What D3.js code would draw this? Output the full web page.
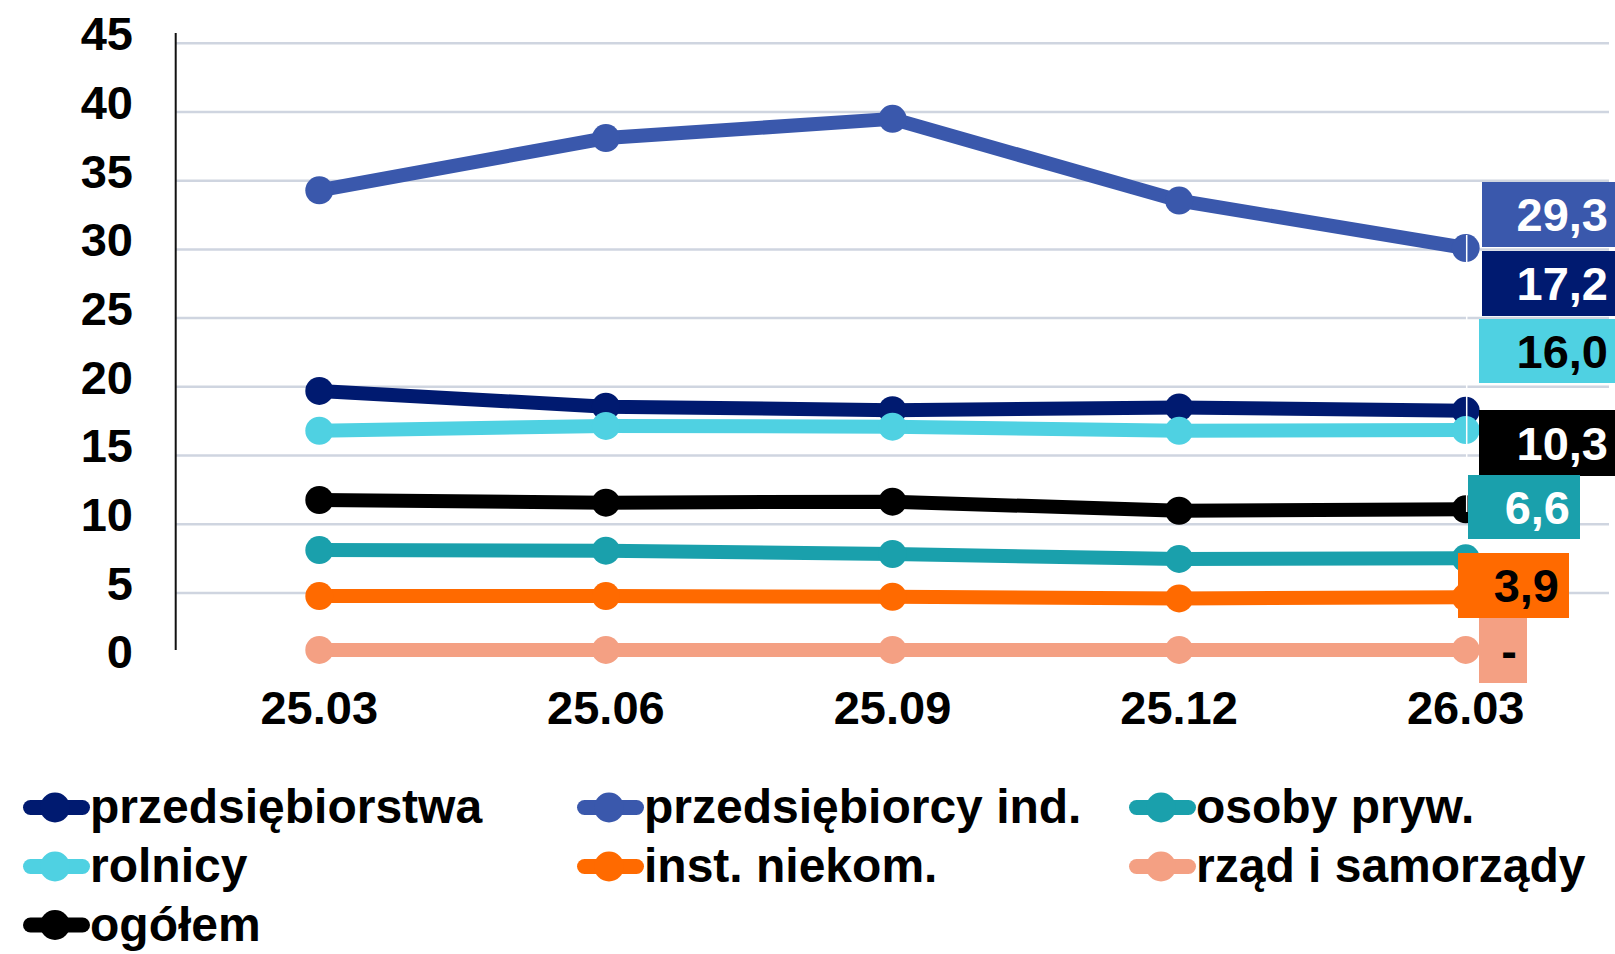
<!DOCTYPE html>
<html>
<head>
<meta charset="utf-8">
<script src="https://cdn.jsdelivr.net/npm/d3@7"></script>
<style>
  html, body { margin: 0; padding: 0; background: #fff; }
  svg { display: block; font-family: "Liberation Sans", Arial, sans-serif; font-weight: bold; }
</style>
</head>
<body>
<svg id="chart" width="1615" height="954"></svg>
<script>
// ---- data ----
const categories = ["25.03", "25.06", "25.09", "25.12", "26.03"];
const yTicks = [0, 5, 10, 15, 20, 25, 30, 35, 40, 45];

const seriesNames = ["przedsiębiorstwa", "przedsiębiorcy ind.", "osoby pryw.", "rolnicy", "inst. niekom.", "rząd i samorządy", "ogółem"];
const przedsiebiorstwa   = [19.7, 18.55, 18.3, 18.5, 18.25];
const przedsiebiorcyInd  = [34.3, 38.1, 39.5, 33.55, 30.1];
const osobyPryw          = [8.12, 8.07, 7.83, 7.47, 7.52];
const rolnicy            = [16.8, 17.15, 17.1, 16.8, 16.85];
const instNiekom         = [4.77, 4.77, 4.72, 4.6, 4.68];
const rzad               = [0.85, 0.85, 0.85, 0.85, 0.85];
const ogolem             = [11.76, 11.57, 11.64, 10.98, 11.08];

// end-of-line value labels (as printed on the chart)
const endLabels = ["29,3", "17,2", "16,0", "10,3", "6,6", "3,9", "-"];

// ---- styles / layout ----
const colors = ["#001a70", "#3a58ac", "#1aa0ac", "#4fd1e2", "#ff6a00", "#f4a083", "#000000"];
const seriesValues = [przedsiebiorstwa, przedsiebiorcyInd, osobyPryw, rolnicy, instNiekom, rzad, ogolem];

// label boxes (order of endLabels): fill, text colour, box extents
const endLabelStyle = [
  {fill: "#3a58ac", text: "#fff", x0: 1482, x1: 1615, y0: 182, y1: 247},
  {fill: "#001a70", text: "#fff", x0: 1482, x1: 1615, y0: 251, y1: 316},
  {fill: "#4fd1e2", text: "#000", x0: 1479, x1: 1615, y0: 319, y1: 383},
  {fill: "#000000", text: "#fff", x0: 1479, x1: 1615, y0: 410, y1: 476},
  {fill: "#1aa0ac", text: "#fff", x0: 1468, x1: 1580, y0: 475, y1: 539},
  {fill: "#ff6a00", text: "#000", x0: 1458, x1: 1569, y0: 553, y1: 618},
  {fill: "#f4a083", text: "#000", x0: 1479, x1: 1527, y0: 618, y1: 683}
];

const svg = d3.select("#chart");

const x = d3.scalePoint().domain(categories).range([176, 1609]).padding(0.5);
const y = d3.scaleLinear().domain([0, 45]).range([661.6, 43.3]);

// gridlines
svg.append("g").selectAll("line")
  .data(yTicks.filter(d => d > 0))
  .join("line")
  .attr("x1", 176).attr("x2", 1609)
  .attr("y1", d => y(d)).attr("y2", d => y(d))
  .attr("stroke", "#cfd5e0").attr("stroke-width", 2.5);

// y axis line
svg.append("line")
  .attr("x1", 175.7).attr("x2", 175.7)
  .attr("y1", 33).attr("y2", 650)
  .attr("stroke", "#111").attr("stroke-width", 2);

// y tick labels
svg.append("g").selectAll("text")
  .data(yTicks)
  .join("text")
  .attr("x", 133)
  .attr("y", d => y(d) + 6.8)
  .attr("text-anchor", "end")
  .attr("font-size", 47)
  .attr("fill", "#000")
  .text(d => d);

// x tick labels
svg.append("g").selectAll("text")
  .data(categories)
  .join("text")
  .attr("x", d => x(d))
  .attr("y", 724)
  .attr("text-anchor", "middle")
  .attr("font-size", 47)
  .attr("fill", "#000")
  .text(d => d);

// lines
const line = d3.line().x((d, i) => x(categories[i])).y(d => y(d));
const gLines = svg.append("g");
seriesValues.forEach((vals, si) => {
  const g = gLines.append("g");
  g.append("path")
    .attr("d", line(vals))
    .attr("fill", "none")
    .attr("stroke", colors[si])
    .attr("stroke-width", 14)
    .attr("stroke-linejoin", "round");
  g.selectAll("circle")
    .data(vals)
    .join("circle")
    .attr("cx", (d, i) => x(categories[i]))
    .attr("cy", d => y(d))
    .attr("r", 14)
    .attr("fill", colors[si]);
});

// thin white leader line through last points
svg.append("line")
  .attr("x1", x(categories[4]) + 1).attr("x2", x(categories[4]) + 1)
  .attr("y1", 235).attr("y2", 512)
  .attr("stroke", "#fff").attr("stroke-width", 1.5);

// end labels
const gLab = svg.append("g");
endLabels.forEach((t, i) => {
  const s = endLabelStyle[i];
  gLab.append("rect")
    .attr("x", s.x0).attr("y", s.y0)
    .attr("width", s.x1 - s.x0).attr("height", s.y1 - s.y0)
    .attr("fill", s.fill);
  gLab.append("text")
    .attr("x", Math.min(s.x1, 1615) - (s.x1 >= 1615 ? 7 : 10))
    .attr("y", (s.y0 + s.y1) / 2 + 16.8)
    .attr("text-anchor", "end")
    .attr("font-size", 47)
    .attr("fill", s.text)
    .text(t);
});

// legend
const legendOrder = [0, 1, 2, 3, 4, 5, 6];
const colX = [23, 577, 1129];
const rowY = [807.5, 866.5, 925];
const gLeg = svg.append("g");
legendOrder.forEach((si, k) => {
  const cx = colX[k % 3], cy = rowY[Math.floor(k / 3)];
  const g = gLeg.append("g").attr("transform", `translate(${cx},${cy})`);
  g.append("line")
    .attr("x1", 7.5).attr("x2", 59.5).attr("y1", 0).attr("y2", 0)
    .attr("stroke", colors[si]).attr("stroke-width", 15).attr("stroke-linecap", "round");
  g.append("circle").attr("cx", 32).attr("cy", 0).attr("r", 15).attr("fill", colors[si]);
  g.append("text")
    .attr("x", 67).attr("y", 15.5)
    .attr("font-size", 48)
    .attr("fill", "#000")
    .text(seriesNames[si]);
});
</script>
</body>
</html>
